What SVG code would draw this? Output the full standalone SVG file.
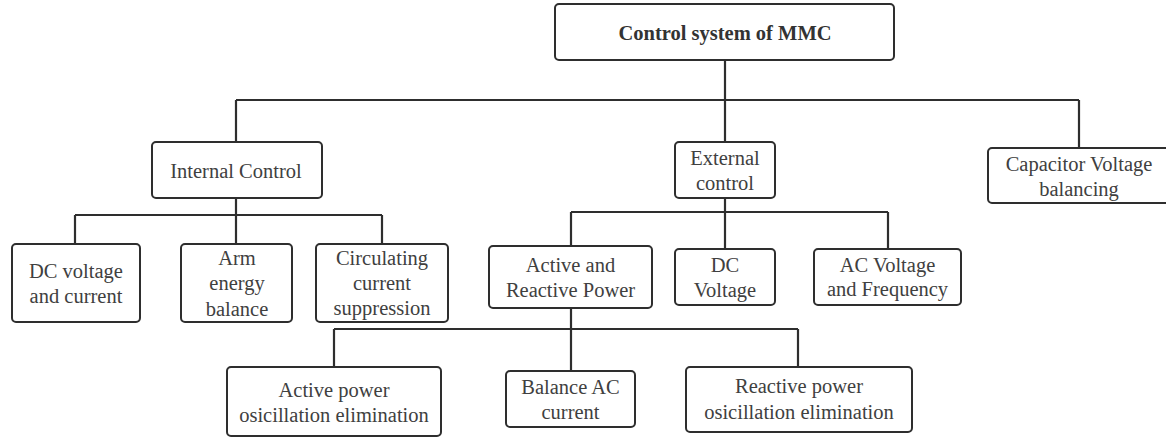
<svg xmlns="http://www.w3.org/2000/svg" width="1166" height="438" viewBox="0 0 1166 438">
<style>
.box{fill:#fff;stroke:#2e2e2e;stroke-width:2}
.t{font-family:"Liberation Serif","Times New Roman",serif;font-size:20.5px;fill:#404040;text-anchor:middle}
.b{font-weight:bold;fill:#333}
.c{fill:none;stroke:#2e2e2e;stroke-width:2.2}
</style>
<rect width="1166" height="438" fill="#fff"/>
<g id="connectors">
<path class="c" d="M725 60V100M236 100H1079M236 100V142M725 100V142M1079 100V148"/>
<path class="c" d="M236 198V215M75 215H382M75 215V244M236 215V244M382 215V244"/>
<path class="c" d="M725 198V212M571 212H888M571 212V246M725 212V249M888 212V249"/>
<path class="c" d="M571 308V329M334 329H798M334 329V367M571 329V371M798 329V368"/>
</g>
<g id="n-root"><rect class="box" x="555" y="4" width="339" height="56" rx="4"/><text class="t b" x="725" y="40">Control system of MMC</text></g>
<g id="n-internal"><rect class="box" x="152" y="142" width="170" height="56" rx="4"/><text class="t" x="236" y="178">Internal Control</text></g>
<g id="n-external"><rect class="box" x="675" y="142" width="100" height="56" rx="4"/><text class="t" x="725" y="165">External</text><text class="t" x="725" y="190">control</text></g>
<g id="n-capacitor"><rect class="box" x="988" y="148" width="182" height="55" rx="4"/><text class="t" x="1079" y="171">Capacitor Voltage</text><text class="t" x="1079" y="196">balancing</text></g>
<g id="n-dcvc"><rect class="box" x="12" y="244" width="128" height="78" rx="4"/><text class="t" x="76" y="278">DC voltage</text><text class="t" x="76" y="303">and current</text></g>
<g id="n-arm"><rect class="box" x="181" y="244" width="111" height="78" rx="4"/><text class="t" x="237" y="265">Arm</text><text class="t" x="237" y="290">energy</text><text class="t" x="237" y="316">balance</text></g>
<g id="n-circ"><rect class="box" x="316" y="244" width="132" height="78" rx="4"/><text class="t" x="382" y="265">Circulating</text><text class="t" x="382" y="290">current</text><text class="t" x="382" y="315">suppression</text></g>
<g id="n-arp"><rect class="box" x="489" y="246" width="163" height="62" rx="4"/><text class="t" x="570.5" y="272">Active and</text><text class="t" x="570.5" y="297">Reactive Power</text></g>
<g id="n-dcv"><rect class="box" x="675" y="249" width="100" height="56" rx="4"/><text class="t" x="725" y="272">DC</text><text class="t" x="725" y="297">Voltage</text></g>
<g id="n-acvf"><rect class="box" x="814" y="249" width="147" height="56" rx="4"/><text class="t" x="887.5" y="272">AC Voltage</text><text class="t" x="887.5" y="296">and Frequency</text></g>
<g id="n-apoe"><rect class="box" x="227" y="367" width="214" height="69" rx="4"/><text class="t" x="334" y="397">Active power</text><text class="t" x="334" y="422">osicillation elimination</text></g>
<g id="n-bac"><rect class="box" x="506" y="371" width="129" height="56" rx="4"/><text class="t" x="570.5" y="394">Balance AC</text><text class="t" x="570.5" y="419">current</text></g>
<g id="n-rpoe"><rect class="box" x="686" y="367" width="226" height="65" rx="4"/><text class="t" x="799" y="393">Reactive power</text><text class="t" x="799" y="419">osicillation elimination</text></g>
</svg>
